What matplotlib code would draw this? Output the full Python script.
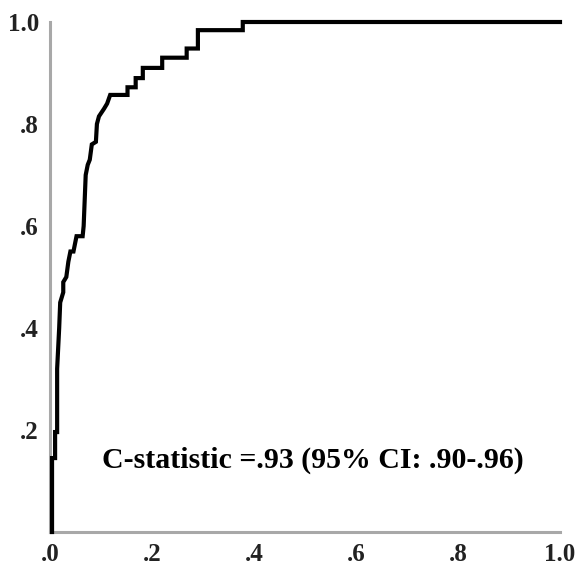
import matplotlib.pyplot as plt

plt.rcParams['font.family'] = ['Liberation Serif', 'DejaVu Serif']

# ROC curve vertices
fpr = [0.004, 0.004, 0.010, 0.010, 0.014, 0.014, 0.018, 0.020, 0.026, 0.026,
       0.032, 0.036, 0.040, 0.046, 0.052, 0.064, 0.066, 0.070, 0.074, 0.078,
       0.082, 0.090, 0.092, 0.096, 0.106, 0.112, 0.118, 0.152, 0.152, 0.168,
       0.168, 0.182, 0.182, 0.220, 0.220, 0.268, 0.268, 0.290, 0.290, 0.378,
       0.378, 1.000]
tpr = [0.000, 0.145, 0.145, 0.196, 0.196, 0.320, 0.400, 0.450, 0.470, 0.490,
       0.500, 0.530, 0.550, 0.550, 0.580, 0.580, 0.600, 0.700, 0.720, 0.730,
       0.760, 0.765, 0.800, 0.815, 0.830, 0.840, 0.857, 0.857, 0.872, 0.872,
       0.890, 0.890, 0.910, 0.910, 0.930, 0.930, 0.948, 0.948, 0.984, 0.984,
       1.000, 1.000]

ticks = [0.0, 0.2, 0.4, 0.6, 0.8, 1.0]
x_labels = ['.0', '.2', '.4', '.6', '.8', '1.0']
y_ticks = [0.2, 0.4, 0.6, 0.8, 1.0]
y_labels = ['.2', '.4', '.6', '.8', '1.0']
note = 'C-statistic =.93 (95% CI: .90-.96)'

fig = plt.figure(figsize=(5.8, 5.67), dpi=100)
ax = fig.add_axes([0.0862, 0.0617, 0.8793, 0.8995])

ax.plot(fpr, tpr, color='black', lw=3, solid_joinstyle='miter', clip_on=False, zorder=5)

ax.set_xlim(0, 1)
ax.set_ylim(0, 1)
ax.set_xticks(ticks)
ax.set_xticklabels(x_labels)
ax.set_yticks(y_ticks)
ax.set_yticklabels(y_labels)
ax.tick_params(length=0, labelsize=18, pad=8)
for lab in ax.get_xticklabels() + ax.get_yticklabels():
    lab.set_fontweight('bold')
    lab.set_color('#222222')
# labels sit a touch below their ticks in the original
for lab in ax.get_yticklabels():
    lab.set_va('center_baseline')

for side in ['top', 'right']:
    ax.spines[side].set_visible(False)
for side in ['left', 'bottom']:
    ax.spines[side].set_color('#a8a8a8')
    ax.spines[side].set_linewidth(2.2)

ax.text(0.102, 0.141, note, fontsize=21.5, fontweight='bold', ha='left', va='center')

fig.savefig('out.png', dpi=100)
